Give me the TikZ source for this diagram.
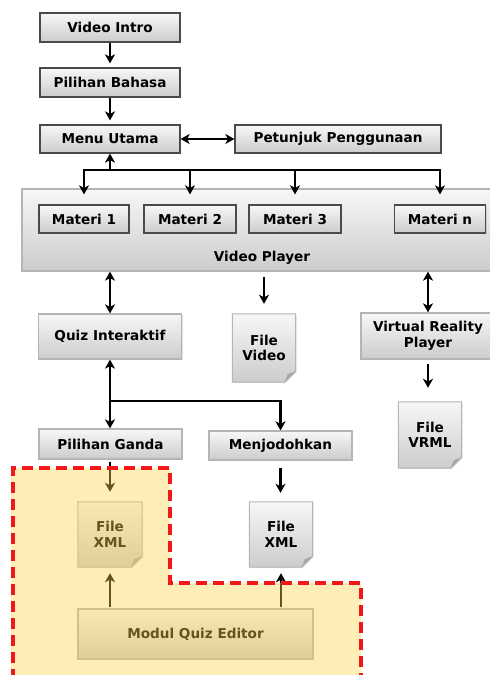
\documentclass[tikz,border=0pt]{standalone}
\usepackage{fontspec}
\setmainfont{DejaVu Sans}
\usetikzlibrary{arrows.meta,positioning,shadows,backgrounds,calc}
\definecolor{boxTop}{HTML}{F7F7F7}
\definecolor{boxBot}{HTML}{CCCCCC}
\definecolor{darkEdge}{HTML}{4A4A4A}
\definecolor{lightEdge}{HTML}{B5B5B5}
\definecolor{foldGray}{HTML}{A8A8A8}
\definecolor{editorYellow}{HTML}{FFD24D}
\definecolor{editorRed}{HTML}{F01818}
\tikzset{
	menubox/.style={draw=darkEdge, line width=1.2pt, top color=boxTop, bottom color=boxBot,
		inner sep=0pt, font=\fontsize{13.6}{15.5}\selectfont\bfseries,
		drop shadow={shadow xshift=1pt, shadow yshift=-1pt, opacity=0.25}},
	panelbox/.style={menubox, draw=lightEdge},
	filedoc/.style={inner sep=0pt, align=center, minimum width=63pt, minimum height=66pt,
		font=\fontsize{13.6}{15.5}\selectfont\bfseries},
	filepaper/.style={draw=lightEdge, line width=1pt, top color=boxTop, bottom color=boxBot,
		drop shadow={shadow xshift=1pt, shadow yshift=-1pt, opacity=0.2}},
	arr/.style={line width=2.4pt, -{Stealth[length=9pt,width=10pt,inset=2.5pt]}},
	darr/.style={arr, {Stealth[length=9pt,width=10pt,inset=2.5pt]}-{Stealth[length=9pt,width=10pt,inset=2.5pt]}}
}

\begin{document}
\begin{tikzpicture}[x=1pt, y=-1pt]
	\useasboundingbox (0,0) rectangle (490,675);
	\node[menubox, minimum width=140pt, minimum height=29pt] (vi) at (110,27.5) {Video Intro};
	\node[menubox, minimum width=140pt, minimum height=29pt] (pb) at (110,82.5) {Pilihan Bahasa};
	\node[menubox, minimum width=140pt, minimum height=28pt] (mu) at (110,139) {Menu Utama};
	\node[menubox, minimum width=206pt, minimum height=28pt] (pp) at (338,139) {Petunjuk Penggunaan};
	\node[panelbox, minimum width=480pt, minimum height=82pt,
		label={[anchor=south, yshift=4pt, font=\fontsize{13.6}{15.5}\selectfont\bfseries]south:Video Player}] (vp) at (262,230) {};
	\node[menubox, minimum width=90pt, minimum height=28pt] (m1) at (84,219) {Materi 1};
	\node[menubox, minimum width=92pt, minimum height=28pt] (m2) at (190,219) {Materi 2};
	\node[menubox, minimum width=92pt, minimum height=28pt] (m3) at (295,219) {Materi 3};
	\node[menubox, minimum width=91pt, minimum height=28pt] (mn) at (440,219) {Materi n};
	\node[panelbox, minimum width=143pt, minimum height=45pt] (qi) at (110,336.5) {Quiz Interaktif};
	\node[filedoc, minimum height=68pt] (fvid) at (264,348) {File\\Video};
	\node[panelbox, minimum width=134pt, minimum height=46pt, align=center] (vrp) at (428,336) {Virtual Reality\\Player};
	\node[filedoc] (fvrml) at (430,435) {File\\VRML};
	\node[panelbox, minimum width=143pt, minimum height=30pt] (pg) at (110.5,444) {Pilihan Ganda};
	\node[panelbox, minimum width=143pt, minimum height=29pt] (mj) at (280.5,445.5) {Menjodohkan};
	\node[filedoc, minimum width=64pt, minimum height=65pt] (fxa) at (110,534.5) {File\\XML};
	\node[filedoc, minimum height=65pt] (fxb) at (281,534.5) {File\\XML};
	\node[panelbox, minimum width=235pt, minimum height=50pt] (mqe) at (195.5,634) {Modul Quiz Editor};
	% paper sheets with folded corner
	\begin{scope}[on background layer]
		\foreach \f in {fvid,fvrml,fxa,fxb} {
			\path[filepaper] (\f.north west) -- (\f.north east) -- ([yshift=11pt]\f.south east)
				-- ([xshift=-11pt]\f.south east) -- (\f.south west) -- cycle;
			\fill[foldGray] ([yshift=11pt]\f.south east) -- ([xshift=-11pt]\f.south east)
				-- ([xshift=-8pt,yshift=8pt]\f.south east) -- cycle;
		}
	\end{scope}
	% connectors
	\path[arr, shorten >=4pt] (vi) edge (pb);
	\path[arr, shorten >=4pt] (pb) edge (mu);
	\draw[darr] (mu) -- (pp);
	\coordinate (mbus) at (110,170);
	\draw[arr] (mbus) -- (mu);
	\draw[arr] (m1.north |- mbus) -| ([yshift=-6pt]mn.north |- vp.north);
	\draw[arr] (mn.north |- mbus) -| ([yshift=-6pt]m1.north |- vp.north);
	\foreach \m in {m2,m3}
		\draw[arr] (\m.north |- mbus) -- ([yshift=-6pt]\m.north |- vp.north);
	\draw[darr] (qi.north |- vp.south) -- (qi.north);
	\draw[arr, shorten <=5pt, shorten >=10pt] (fvid.north |- vp.south) -- (fvid.north);
	\draw[darr] (vrp.north |- vp.south) -- (vrp.north);
	\draw[arr, shorten <=4pt, shorten >=14pt] (vrp.south) -- (vrp.south |- fvrml.north);
	\coordinate (qbus) at (110,401);
	\draw[arr] (qbus) -- (qi.south);
	\draw[arr] (qbus) -- (pg.north -| qbus);
	\draw[arr] (qbus) -| (mj.north);
	\draw[arr, shorten <=2pt, shorten >=10pt] (pg.south -| fxa) -- (fxa.north);
	\draw[arr, shorten <=7pt, shorten >=9pt] (mj.south) -- (mj.south |- fxb.north);
	\draw[arr, shorten <=1pt, shorten >=6pt] (fxa.south |- mqe.north) -- (fxa.south);
	\draw[arr, shorten <=1pt, shorten >=6pt] (fxb.south |- mqe.north) -- (fxb.south);
	% quiz editor region
	\fill[editorYellow, opacity=0.4] (11,468) -- (170,468) -- (170,583) -- (361,583) -- (361,680) -- (11,680) -- cycle;
	\draw[editorRed, line width=3.5pt, dash pattern=on 11pt off 6pt]
		(13,680) -- (13,468) -- (170,468) -- (170,583) -- (361,583) -- (361,680);
\end{tikzpicture}
\end{document}
